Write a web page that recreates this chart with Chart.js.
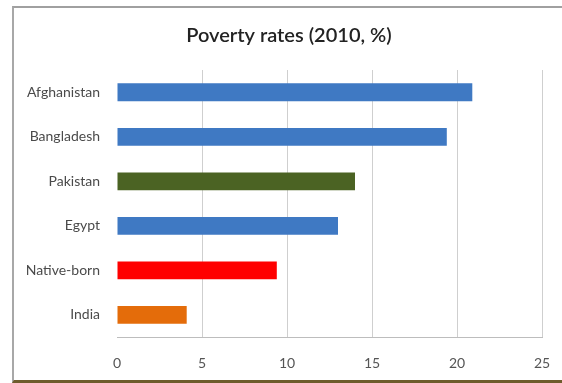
<!DOCTYPE html>
<html>
<head>
<meta charset="utf-8">
<script src="https://cdn.jsdelivr.net/npm/chart.js@4/dist/chart.umd.min.js"></script>
<style>
  html, body { margin: 0; padding: 0; background: #ffffff; }
  #wrap { position: relative; width: 562px; height: 383px; overflow: hidden; }
  #frame {
    position: absolute; left: 12px; top: 6px; width: 560px; height: 372px;
    border-top: 2px solid #a0a0a0; border-left: 2px solid #a8a8a8;
    border-bottom: 3px solid #6e5c2c; pointer-events: none;
  }
  canvas { position: absolute; left: 0; top: 0; }
</style>
</head>
<body>
<div id="wrap">
  <canvas id="chart" width="562" height="383"></canvas>
  <div id="frame"></div>
</div>
<script>
// chart data
const categories = ['Afghanistan', 'Bangladesh', 'Pakistan', 'Egypt', 'Native-born', 'India'];
const povertyRates = [20.9, 19.4, 14.0, 13.0, 9.4, 4.1];
const xTicks = [0, 5, 10, 15, 20, 25];

// one colour per bar
const barColors = ['#3f79c3', '#3f79c3', '#4b6323', '#3f79c3', '#ff0000', '#e46c0a'];

const labelFont = { family: 'Lato', size: 14 };

// title sits centred over the framed box, not the whole canvas
const shiftTitle = {
    id: 'shiftTitle',
    afterLayout: chart => { chart.titleBlock.left = 36; }
};

new Chart(document.getElementById('chart'), {
    type: 'bar',
    data: {
        labels: categories,
        datasets: [{
            data: povertyRates,
            backgroundColor: barColors,
            borderWidth: 0,
            barPercentage: 0.4,
            categoryPercentage: 1.0
        }]
    },
    options: {
        indexAxis: 'y',
        responsive: false,
        animation: false,
        layout: { padding: { left: 0, right: 20, top: 0, bottom: -7 } },
        plugins: {
            legend: { display: false },
            tooltip: { enabled: false },
            title: {
                display: true,
                text: 'Poverty rates (2010, %)',
                color: '#222222',
                font: { family: 'Lato', size: 20, weight: '600' },
                padding: { top: 24, bottom: 22 }
            }
        },
        scales: {
            x: {
                min: 0,
                max: 25,
                afterBuildTicks: scale => { scale.ticks = xTicks.map(v => ({ value: v })); },
                afterFit: scale => { scale.paddingRight = 0; },
                grid: {
                    drawTicks: false,
                    color: ctx => (ctx.tick && ctx.tick.value === 0) ? 'rgba(0,0,0,0)' : '#cfcfcf'
                },
                border: { display: true, color: '#bdbdbd' },
                ticks: { color: '#555555', font: labelFont, padding: 18 }
            },
            y: {
                grid: { display: false, drawTicks: false },
                border: { display: false },
                afterFit: scale => { scale.width = 117; },
                ticks: { color: '#4a4a4a', font: labelFont, padding: 17 }
            }
        }
    },
    plugins: [shiftTitle]
});
</script>
</body>
</html>
